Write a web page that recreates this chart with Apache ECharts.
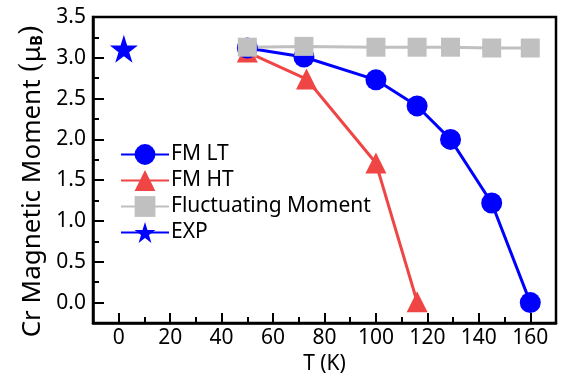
<!DOCTYPE html>
<html>
<head>
<meta charset="utf-8">
<script src="https://cdn.jsdelivr.net/npm/echarts@6/dist/echarts.min.js"></script>
<style>
    html, body {margin: 0; padding: 0; background: #fff;}
    #chart {width: 563px; height: 382px;}
</style>
</head>
<body>
<div id="chart"></div>
<script>
    // temperatures (K) and moments (muB)
    var tempLT = [50, 72, 100, 116, 129, 145, 160];
    var momLT = [3.12, 3.01, 2.73, 2.41, 2.00, 1.22, 0.00];
    var tempHT = [50, 73, 100, 116];
    var momHT = [3.07, 2.74, 1.71, 0.01];
    var tempFluct = [50, 72, 100, 116, 129, 145, 160];
    var momFluct = [3.13, 3.14, 3.13, 3.13, 3.13, 3.12, 3.12];
    var tempExp = [2];
    var momExp = [3.11];
    var xTicks = [0, 20, 40, 60, 80, 100, 120, 140, 160];
    var yTicks = [0, 0.5, 1, 1.5, 2, 2.5, 3, 3.5];

    function pairs(xs, ys) {
        var out = [];
        for (var i = 0; i < xs.length; i++) {
            out.push([xs[i], ys[i]]);
        }
        return out;
    }

    var font = 'Noto Sans, Liberation Sans, sans-serif';
    var myChart = echarts.init(document.getElementById('chart'));
    myChart.setOption({
        animation: false,
        textStyle: {fontFamily: font},
        grid: {
            left: 93, right: 7, top: 17, bottom: 59,
            show: true, borderColor: '#000', borderWidth: 2.5
        },
        legend: {
            orient: 'vertical',
            left: 115, top: 139,
            itemWidth: 48, itemHeight: 26, itemGap: 5,
            data: ['FM LT', 'FM HT', 'Fluctuating Moment', 'EXP'],
            textStyle: {fontSize: 21, color: '#000', fontFamily: font, padding: [0, 0, 0, -3]}
        },
        xAxis: [{
            type: 'value', min: -10, max: 170,
            name: 'T (K)', nameLocation: 'middle', nameGap: 30,
            nameTextStyle: {fontSize: 21, color: '#000'},
            axisLine: {onZero: false, lineStyle: {color: '#000', width: 2.5}},
            axisTick: {inside: true, length: 10, lineStyle: {color: '#000', width: 2}, customValues: xTicks},
            axisLabel: {fontSize: 21, color: '#000', margin: 5, customValues: xTicks},
            splitLine: {show: false}
        }, {
            type: 'value', min: -10, max: 170, interval: 10, position: 'bottom',
            axisLine: {show: false, onZero: false},
            axisTick: {inside: true, length: 6, lineStyle: {color: '#000', width: 2}},
            axisLabel: {show: false},
            splitLine: {show: false}
        }],
        yAxis: [{
            type: 'value', min: -0.25, max: 3.5,
            name: '{a|Cr Magnetic Moment }{p|(}{a|μ}{b|B}{p|)}',
            nameLocation: 'middle', nameGap: 47, nameRotate: 90,
            nameTextStyle: {
                padding: [0, 22, 0, 0],
                rich: {
                    a: {fontSize: 26, color: '#000', fontFamily: font, verticalAlign: 'bottom'},
                    p: {fontSize: 27, color: '#000', fontFamily: 'DejaVu Serif, serif', verticalAlign: 'bottom'},
                    b: {fontSize: 16, color: '#000', fontFamily: font, fontWeight: 'bold', verticalAlign: 'bottom', padding: [14, 0, 0, 0]}
                }
            },
            axisLine: {onZero: false, lineStyle: {color: '#000', width: 2.5}},
            axisTick: {inside: true, length: 11, lineStyle: {color: '#000', width: 2}, customValues: yTicks},
            axisLabel: {
                fontSize: 21, color: '#000', margin: 7, customValues: yTicks,
                formatter: function (v) { return v.toFixed(1); }
            },
            splitLine: {show: false}
        }, {
            type: 'value', min: -0.25, max: 3.5, interval: 0.25, position: 'left',
            axisLine: {show: false, onZero: false},
            axisTick: {inside: true, length: 6, lineStyle: {color: '#000', width: 2}},
            axisLabel: {show: false},
            splitLine: {show: false}
        }],
        series: [{
            name: 'FM HT', type: 'line',
            data: pairs(tempHT, momHT),
            symbol: 'triangle', symbolSize: 21,
            itemStyle: {color: '#f04545'},
            lineStyle: {color: '#f04545', width: 3}
        }, {
            name: 'FM LT', type: 'line',
            data: pairs(tempLT, momLT),
            symbol: 'circle', symbolSize: 21,
            itemStyle: {color: '#0000ff'},
            lineStyle: {color: '#0000ff', width: 3}
        }, {
            name: 'Fluctuating Moment', type: 'line',
            data: pairs(tempFluct, momFluct),
            symbol: 'rect', symbolSize: 19,
            itemStyle: {color: '#c0c0c0'},
            lineStyle: {color: '#c0c0c0', width: 3}
        }, {
            name: 'EXP', type: 'line',
            data: pairs(tempExp, momExp),
            symbol: 'path://M50,0 L61.8,36.2 L100,36.2 L69.1,58.8 L80.9,95.1 L50,72.7 L19.1,95.1 L30.9,58.8 L0,36.2 L38.2,36.2 Z',
            symbolSize: 28,
            itemStyle: {color: '#0000ff'},
            lineStyle: {color: '#0000ff', width: 3}
        }]
    });
    window.onresize = function () {
        myChart.resize();
    };
</script>
</body>
</html>
